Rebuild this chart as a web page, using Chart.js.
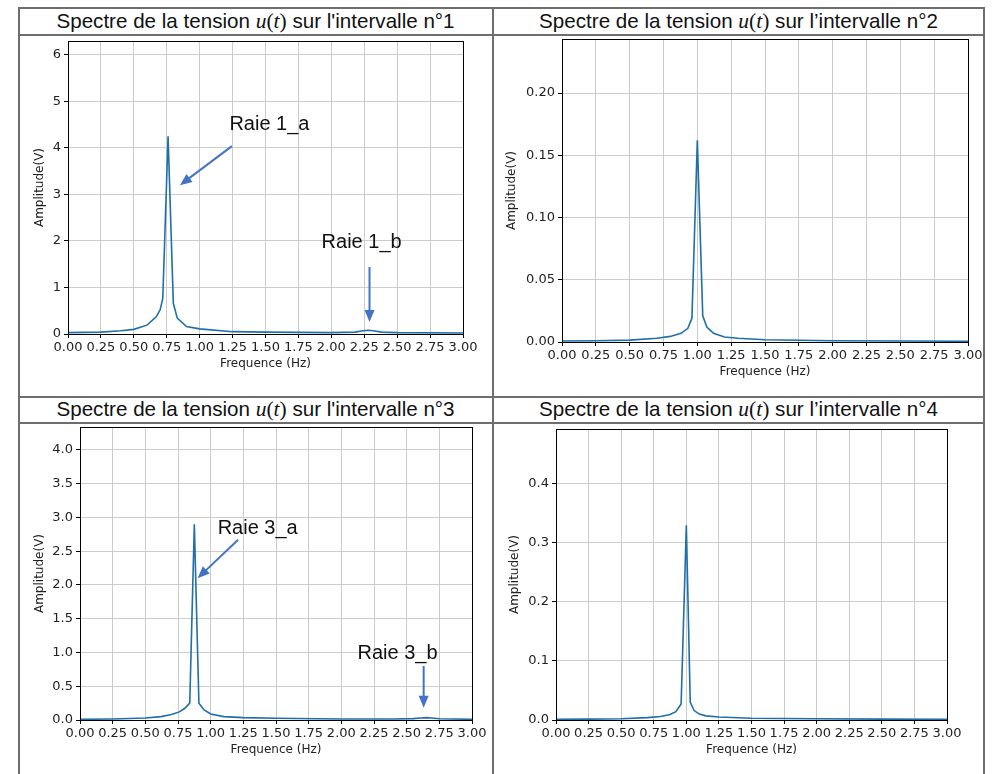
<!DOCTYPE html>
<html>
<head>
<meta charset="utf-8">
<script src="https://cdn.jsdelivr.net/npm/chart.js@4.4.1/dist/chart.umd.min.js"></script>
<style>
  body { margin: 0; background: #fff; width: 993px; height: 774px; position: relative; overflow: hidden; }
  .line { position: absolute; background: #6e6e6e; }
  .title { position: absolute; font-family: "Liberation Sans", Arial, sans-serif; font-size: 20.6px; color: #111; text-align: center; line-height: 26px; }
  .title i { font-family: "Liberation Serif", serif; font-size: 21.5px; }
  .title span { font-family: "Liberation Serif", serif; font-size: 21.5px; }
  canvas { position: absolute; }
</style>
</head>
<body>
<!-- cadre du tableau -->
<div class="line" style="left:18px; top:7px; width:967px; height:1.5px"></div>
<div class="line" style="left:18px; top:34px; width:967px; height:1.5px"></div>
<div class="line" style="left:18px; top:396px; width:967px; height:1.5px"></div>
<div class="line" style="left:18px; top:422px; width:967px; height:1.5px"></div>
<div class="line" style="left:18px; top:7px; width:1.5px; height:767px"></div>
<div class="line" style="left:492px; top:7px; width:1.5px; height:767px"></div>
<div class="line" style="left:983px; top:7px; width:1.5px; height:767px"></div>

<div class="title" style="left:19px; top:8px; width:473px">Spectre de la tension <i>u</i><span>(</span><i>t</i><span>)</span> sur l'intervalle n°1</div>
<div class="title" style="left:494px; top:8px; width:489px">Spectre de la tension <i>u</i><span>(</span><i>t</i><span>)</span> sur l’intervalle n°2</div>
<div class="title" style="left:19px; top:396px; width:473px">Spectre de la tension <i>u</i><span>(</span><i>t</i><span>)</span> sur l'intervalle n°3</div>
<div class="title" style="left:494px; top:396px; width:489px">Spectre de la tension <i>u</i><span>(</span><i>t</i><span>)</span> sur l’intervalle n°4</div>

<canvas id="c1" width="454" height="337" style="left:29px; top:37px"></canvas>
<canvas id="c2" width="487" height="347" style="left:501px; top:35px"></canvas>
<canvas id="c3" width="463" height="337" style="left:29px; top:423px"></canvas>
<canvas id="c4" width="463" height="335" style="left:504px; top:425px"></canvas>

<script>
// axe des fréquences commun
const xTicks = [0, 0.25, 0.5, 0.75, 1, 1.25, 1.5, 1.75, 2, 2.25, 2.5, 2.75, 3];

// intervalle n°1
const freq1 = [0, 0.25, 0.4, 0.5, 0.6, 0.67, 0.7, 0.72, 0.76, 0.8, 0.83, 0.9, 1.0, 1.25, 1.5, 2.0, 2.18, 2.24, 2.28, 2.32, 2.38, 2.5, 3.0];
const amp1  = [0.03, 0.04, 0.07, 0.1, 0.19, 0.37, 0.52, 0.77, 4.25, 0.66, 0.34, 0.16, 0.11, 0.05, 0.04, 0.03, 0.04, 0.07, 0.08, 0.07, 0.04, 0.03, 0.02];
const yTicks1 = [0, 1, 2, 3, 4, 5, 6];

// intervalle n°2
const freq2 = [0, 0.25, 0.5, 0.7, 0.8, 0.88, 0.93, 0.96, 1.0, 1.04, 1.07, 1.12, 1.2, 1.3, 1.5, 2.0, 2.5, 3.0];
const amp2  = [0.0008, 0.001, 0.0015, 0.003, 0.0045, 0.007, 0.011, 0.019, 0.162, 0.021, 0.012, 0.007, 0.004, 0.003, 0.0018, 0.001, 0.0008, 0.0006];
const yTicks2 = [0, 0.05, 0.1, 0.15, 0.2];

// intervalle n°3
const freq3 = [0, 0.25, 0.5, 0.62, 0.7, 0.76, 0.8, 0.84, 0.875, 0.91, 0.95, 1.0, 1.1, 1.25, 1.5, 2.0, 2.4, 2.55, 2.61, 2.65, 2.69, 2.75, 3.0];
const amp3  = [0.01, 0.015, 0.03, 0.05, 0.08, 0.12, 0.17, 0.25, 2.9, 0.25, 0.15, 0.09, 0.05, 0.035, 0.025, 0.015, 0.015, 0.02, 0.03, 0.035, 0.03, 0.018, 0.01];
const yTicks3 = [0, 0.5, 1, 1.5, 2, 2.5, 3, 3.5, 4];

// intervalle n°4
const freq4 = [0, 0.25, 0.5, 0.7, 0.8, 0.87, 0.92, 0.96, 1.0, 1.03, 1.06, 1.1, 1.15, 1.25, 1.5, 2.0, 2.5, 3.0];
const amp4  = [0.001, 0.0015, 0.002, 0.004, 0.006, 0.009, 0.014, 0.027, 0.33, 0.03, 0.016, 0.01, 0.007, 0.005, 0.003, 0.002, 0.0015, 0.001];
const yTicks4 = [0, 0.1, 0.2, 0.3, 0.4];

const tickFont = { family: 'DejaVu Sans', size: 13 };
const titleFont = { family: 'DejaVu Sans', size: 12 };
const arrowColor = '#4472c4';

// cadre noir autour de la zone de tracé + flèches "Raie"
function framePlugin(notes) {
  return {
    id: 'cadre',
    afterDraw(chart) {
      const { ctx, chartArea: a, scales: { x, y } } = chart;
      ctx.save();
      ctx.strokeStyle = '#000';
      ctx.lineWidth = 1;
      ctx.strokeRect(Math.round(a.left) + 0.5, Math.round(a.top) + 0.5, Math.round(a.right - a.left), Math.round(a.bottom - a.top));
      notes.forEach(n => {
        ctx.fillStyle = '#111';
        ctx.font = '20px "Liberation Sans", Arial, sans-serif';
        ctx.textAlign = 'center';
        ctx.textBaseline = 'middle';
        ctx.fillText(n.text, x.getPixelForValue(n.tx), y.getPixelForValue(n.ty));
        const x1 = x.getPixelForValue(n.from[0]), y1 = y.getPixelForValue(n.from[1]);
        const x2 = x.getPixelForValue(n.to[0]), y2 = y.getPixelForValue(n.to[1]);
        const ang = Math.atan2(y2 - y1, x2 - x1);
        const head = 12;
        ctx.strokeStyle = arrowColor;
        ctx.fillStyle = arrowColor;
        ctx.lineWidth = 2;
        ctx.beginPath();
        ctx.moveTo(x1, y1);
        ctx.lineTo(x2 - head * 0.8 * Math.cos(ang), y2 - head * 0.8 * Math.sin(ang));
        ctx.stroke();
        ctx.beginPath();
        ctx.moveTo(x2, y2);
        ctx.lineTo(x2 - head * Math.cos(ang) + 5 * Math.sin(ang), y2 - head * Math.sin(ang) - 5 * Math.cos(ang));
        ctx.lineTo(x2 - head * Math.cos(ang) - 5 * Math.sin(ang), y2 - head * Math.sin(ang) + 5 * Math.cos(ang));
        ctx.closePath();
        ctx.fill();
      });
      ctx.restore();
    }
  };
}

function makeChart(id, freq, amp, yTicks, yMax, decimals, yAxisW, notes) {
  const data = freq.map((f, i) => ({ x: f, y: amp[i] }));
  return new Chart(document.getElementById(id), {
    type: 'line',
    data: {
      datasets: [{
        data: data,
        borderColor: '#1f6fa8',
        borderWidth: 1.6,
        pointRadius: 0,
        tension: 0,
        fill: false
      }]
    },
    options: {
      responsive: false,
      animation: false,
      events: [],
      layout: { padding: { top: 4, right: 20, left: 0, bottom: 0 } },
      plugins: { legend: { display: false }, tooltip: { enabled: false } },
      scales: {
        x: {
          type: 'linear',
          min: 0,
          max: 3,
          afterBuildTicks: axis => { axis.ticks = xTicks.map(v => ({ value: v })); },
          afterFit: s => { s.height = 40; s.paddingLeft = 0; s.paddingRight = 0; },
          ticks: { font: tickFont, color: '#222', padding: 2, maxRotation: 0, autoSkip: false,
                   callback: v => Number(v).toFixed(2) },
          grid: { color: '#cccccc', tickColor: '#000', tickLength: 4 },
          border: { color: '#000', width: 1 },
          title: { display: true, text: 'Frequence (Hz)', font: titleFont, color: '#222', padding: { top: 0, bottom: 3 } }
        },
        y: {
          type: 'linear',
          min: 0,
          max: yMax,
          afterBuildTicks: axis => { axis.ticks = yTicks.map(v => ({ value: v })); },
          afterFit: s => { s.width = yAxisW; s.paddingTop = 0; s.paddingBottom = 0; },
          ticks: { font: tickFont, color: '#222', padding: 3,
                   callback: v => Number(v).toFixed(decimals) },
          grid: { color: '#cccccc', tickColor: '#000', tickLength: 4 },
          border: { color: '#000', width: 1 },
          title: { display: true, text: 'Amplitude(V)', font: titleFont, color: '#222' }
        }
      }
    },
    plugins: [framePlugin(notes)]
  });
}

makeChart('c1', freq1, amp1, yTicks1, 6.3, 0, 39, [
  { text: 'Raie 1_a', tx: 1.53, ty: 4.5, from: [1.245, 4.04], to: [0.85, 3.2] },
  { text: 'Raie 1_b', tx: 2.23, ty: 1.96, from: [2.29, 1.44], to: [2.29, 0.26] }
]);
makeChart('c2', freq2, amp2, yTicks2, 0.2434, 2, 61, []);
makeChart('c3', freq3, amp3, yTicks3, 4.34, 1, 51, [
  { text: 'Raie 3_a', tx: 1.36, ty: 2.84, from: [1.21, 2.67], to: [0.9, 2.1] },
  { text: 'Raie 3_b', tx: 2.43, ty: 0.99, from: [2.63, 0.8], to: [2.63, 0.18] }
]);
makeChart('c4', freq4, amp4, yTicks4, 0.493, 1, 52, []);
</script>
</body>
</html>
